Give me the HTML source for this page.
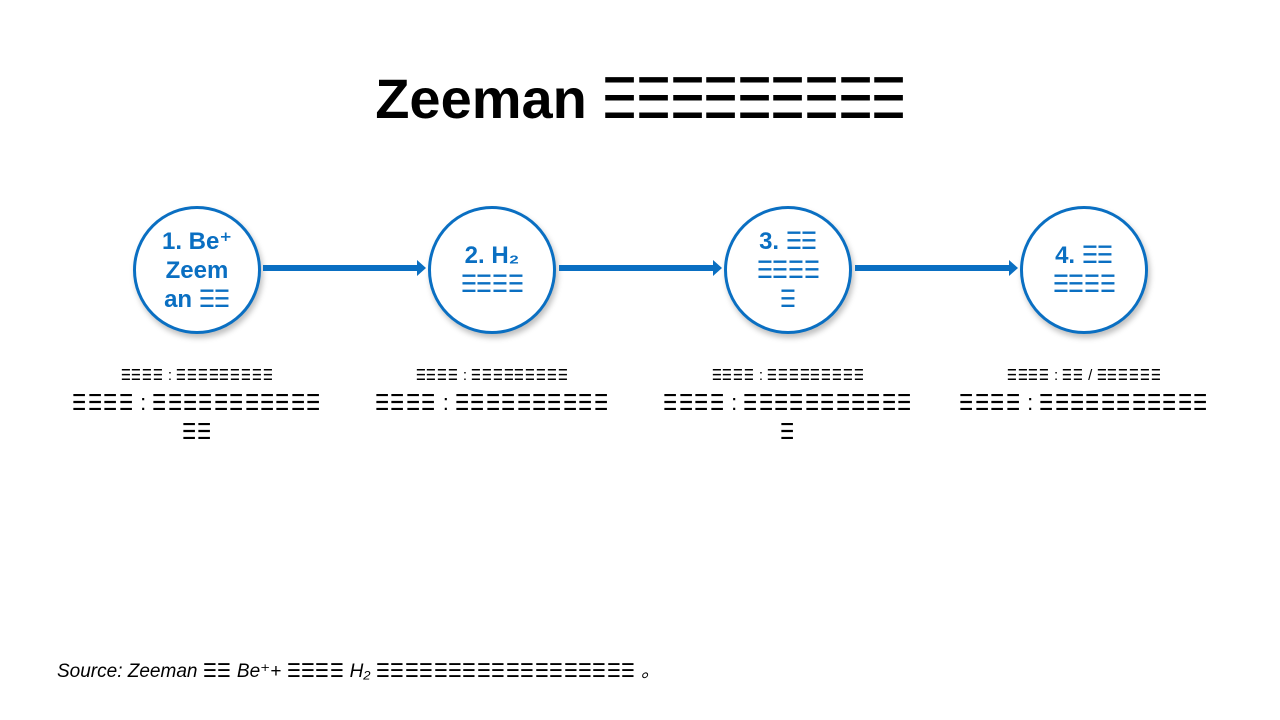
<!DOCTYPE html>
<html><head><meta charset="utf-8"><style>
body{margin:0;width:1280px;height:720px;background:#fff;position:relative;font-family:"Liberation Sans","DejaVu Sans",sans-serif;overflow:hidden}
.g{display:inline-block;width:var(--w);white-space:nowrap;vertical-align:baseline}
.g>span{display:inline-block;transform:scaleX(var(--s));transform-origin:0 50%}
.title{position:absolute;top:66px;left:0;width:1280px;text-align:center;font-size:56px;font-weight:bold;color:#000;--w:0.6em;--s:0.7}
.c{position:absolute;width:122px;height:122px;border:3px solid #0a6fc2;border-radius:50%;box-shadow:2px 4px 6px rgba(0,0,0,0.25);background:#fff;color:#0a6fc2;font-weight:bold;font-size:24px;line-height:29px;display:flex;align-items:center;justify-content:center;text-align:center;top:206px;--w:0.65em;--s:0.74}
.a{position:absolute;top:265px;height:6px;background:#0a6fc2}
.a:after{content:"";position:absolute;right:-8px;top:-5px;border-left:9px solid #0a6fc2;border-top:8px solid transparent;border-bottom:8px solid transparent}
.d{position:absolute;top:364px;width:300px;text-align:center;color:#000}
.d1{font-size:15px;line-height:24px;--w:0.72em;--s:0.74}
.d2{font-size:22px;line-height:29px;--w:0.7em;--s:0.72}
.src{position:absolute;left:57px;top:656px;font-style:italic;font-size:19px;--w:0.76em;--s:0.82}
</style></head><body>
<div class="title">Zeeman ☰☰☰☰☰☰☰☰☰</div>
<div class="c" style="left:133px"><div>1. Be⁺<br>Zeem<br>an ☰☰</div></div>
<div class="c" style="left:428px"><div>2. H₂<br>☰☰☰☰</div></div>
<div class="c" style="left:724px"><div>3. ☰☰<br>☰☰☰☰<br>☰</div></div>
<div class="c" style="left:1020px"><div>4. ☰☰<br>☰☰☰☰</div></div>
<div class="a" style="left:263px;width:155px"></div>
<div class="a" style="left:559px;width:155px"></div>
<div class="a" style="left:855px;width:155px"></div>
<div class="d" style="left:47px"><div class="d1">☰☰☰☰ : ☰☰☰☰☰☰☰☰☰</div><div class="d2">☰☰☰☰ : ☰☰☰☰☰☰☰☰☰☰☰<br>☰☰</div></div>
<div class="d" style="left:342px"><div class="d1">☰☰☰☰ : ☰☰☰☰☰☰☰☰☰</div><div class="d2">☰☰☰☰ : ☰☰☰☰☰☰☰☰☰☰</div></div>
<div class="d" style="left:638px"><div class="d1">☰☰☰☰ : ☰☰☰☰☰☰☰☰☰</div><div class="d2">☰☰☰☰ : ☰☰☰☰☰☰☰☰☰☰☰<br>☰</div></div>
<div class="d" style="left:934px"><div class="d1">☰☰☰☰ : ☰☰ / ☰☰☰☰☰☰</div><div class="d2">☰☰☰☰ : ☰☰☰☰☰☰☰☰☰☰☰</div></div>
<div class="src">Source: Zeeman ☰☰ Be⁺+ ☰☰☰☰ H₂ ☰☰☰☰☰☰☰☰☰☰☰☰☰☰☰☰☰☰ 。</div>
<script>
(function(){
var w=document.createTreeWalker(document.body,NodeFilter.SHOW_TEXT,null),n,list=[];
while(n=w.nextNode()){if(n.nodeValue.indexOf('\u2630')>=0)list.push(n);}
list.forEach(function(t){
var f=document.createDocumentFragment();
t.nodeValue.split(/(\u2630)/).forEach(function(p){
if(p==='\u2630'){var o=document.createElement('span');o.className='g';var i=document.createElement('span');i.textContent=p;o.appendChild(i);f.appendChild(o);}
else if(p)f.appendChild(document.createTextNode(p));
});
t.parentNode.replaceChild(f,t);
});
})();
</script>
</body></html>
